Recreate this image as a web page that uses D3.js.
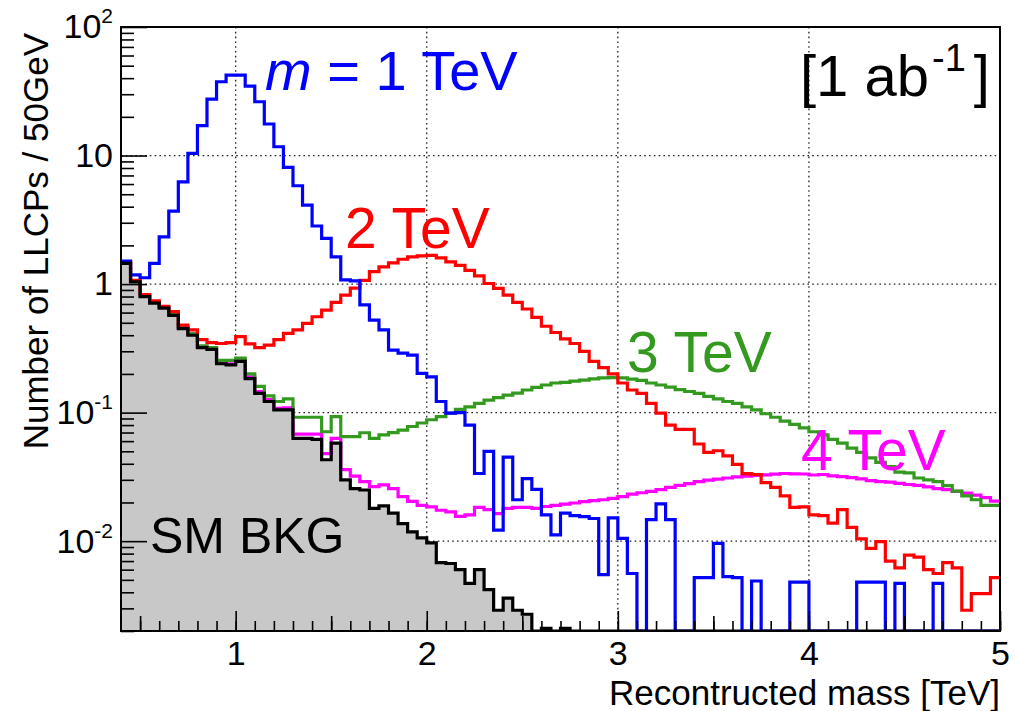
<!DOCTYPE html>
<html>
<head>
<meta charset="utf-8">
<script src="https://cdn.jsdelivr.net/npm/d3@7"></script>
<style>
  body { margin: 0; background: #fff; }
  text { font-family: "Liberation Sans", Arial, Helvetica, sans-serif; }
</style>
</head>
<body>
<svg id="chart" width="1015" height="711"></svg>
<script>
// Histogram binning: 50 GeV bins starting at 0.4 TeV
const binLow = 0.4;
const binWidth = 0.05;

// SM background (filled grey)
const smBkg = [
  1.45, 1.04, 0.80, 0.71, 0.65, 0.57, 0.45, 0.40, 0.32, 0.31,
  0.24, 0.235, 0.25, 0.184, 0.141, 0.122, 0.105, 0.105, 0.063, 0.063,
  0.062, 0.043, 0.058, 0.030, 0.0256, 0.025, 0.018, 0.0188, 0.0165, 0.0137,
  0.0118, 0.0106, 0.0097, 0.0068, 0.0067, 0.0060, 0.0047, 0.0060, 0.0042, 0.0029,
  0.0036, 0.0029, 0.0027, 0.0015, 0.0021, 0.0015, 0.0021, 0, 0, 0,
  0, 0, 0, 0, 0, 0, 0, 0, 0, 0,
  0, 0, 0, 0, 0, 0, 0, 0, 0, 0,
  0, 0, 0, 0, 0, 0, 0, 0, 0, 0,
  0, 0, 0, 0, 0, 0, 0, 0, 0, 0,
  0, 0
];

// Signal + background, m = 1 TeV
const sig1TeV = [
  1.51, 1.18, 1.12, 1.45, 2.33, 3.70, 6.25, 10.4, 17.1, 27.5,
  37.5, 42.3, 42.3, 34.7, 26.2, 17.6, 11.7, 8.1, 5.82, 4.12,
  2.83, 2.27, 1.63, 1.08, 1.06, 0.69, 0.525, 0.44, 0.306, 0.29,
  0.28, 0.202, 0.19, 0.122, 0.099, 0.10, 0.080, 0.0336, 0.050, 0.0122,
  0.045, 0.021, 0.0307, 0.0253, 0.016, 0.0112, 0.0165, 0.0158, 0.0155, 0.015,
  0.0055, 0.0152, 0.0105, 0.0056, 0, 0.0147, 0.0195, 0.0147, 0, 0,
  0.0052, 0.0052, 0.0096, 0.0053, 0.0052, 0, 0.0049, 0, 0, 0,
  0.0048, 0.0048, 0, 0, 0, 0, 0, 0.0048, 0.0048, 0.0048,
  0, 0.0047, 0, 0, 0, 0.0047, 0, 0, 0, 0,
  0, 0
];

// Signal + background, m = 2 TeV
const sig2TeV = [
  1.49, 1.07, 0.83, 0.74, 0.67, 0.61, 0.48, 0.44, 0.37, 0.35,
  0.345, 0.35, 0.39, 0.343, 0.32, 0.335, 0.37, 0.413, 0.44, 0.494,
  0.557, 0.628, 0.72, 0.82, 0.93, 1.07, 1.25, 1.36, 1.46, 1.56,
  1.63, 1.66, 1.67, 1.60, 1.49, 1.40, 1.28, 1.16, 1.01, 0.926,
  0.82, 0.72, 0.64, 0.55, 0.47, 0.42, 0.375, 0.345, 0.30, 0.25,
  0.224, 0.20, 0.17, 0.15, 0.141, 0.118, 0.099, 0.080, 0.074, 0.074,
  0.057, 0.049, 0.0505, 0.046, 0.0395, 0.0335, 0.033, 0.0285, 0.0262, 0.0225,
  0.0183, 0.0185, 0.016, 0.0158, 0.0138, 0.0176, 0.0128, 0.0104, 0.0088, 0.0099,
  0.0070, 0.0062, 0.0078, 0.0075, 0.0060, 0.0056, 0.0068, 0.0062, 0.0029, 0.0039,
  0.0039, 0.0052
];

// Signal + background, m = 3 TeV
const sig3TeV = [
  1.47, 1.06, 0.82, 0.73, 0.66, 0.585, 0.465, 0.41, 0.33, 0.32,
  0.255, 0.255, 0.265, 0.20, 0.16, 0.135, 0.122, 0.128, 0.092, 0.092,
  0.092, 0.071, 0.093, 0.065, 0.065, 0.0697, 0.063, 0.067, 0.070, 0.073,
  0.078, 0.083, 0.088, 0.093, 0.099, 0.106, 0.111, 0.118, 0.125, 0.131,
  0.137, 0.142, 0.150, 0.157, 0.164, 0.170, 0.172, 0.176, 0.179, 0.183,
  0.186, 0.187, 0.186, 0.182, 0.178, 0.170, 0.164, 0.158, 0.151, 0.146,
  0.141, 0.134, 0.128, 0.122, 0.118, 0.111, 0.105, 0.098, 0.092, 0.086,
  0.081, 0.076, 0.071, 0.067, 0.062, 0.058, 0.053, 0.049, 0.0445, 0.041,
  0.038, 0.0345, 0.034, 0.031, 0.030, 0.029, 0.027, 0.0245, 0.0225, 0.021,
  0.019, 0.019
];

// Signal + background, m = 4 TeV
const sig4TeV = [
  1.46, 1.05, 0.81, 0.72, 0.66, 0.58, 0.46, 0.41, 0.325, 0.315,
  0.245, 0.24, 0.255, 0.19, 0.146, 0.126, 0.108, 0.109, 0.068, 0.068,
  0.068, 0.048, 0.063, 0.036, 0.032, 0.029, 0.0266, 0.0274, 0.0256, 0.0222,
  0.0204, 0.019, 0.0185, 0.0174, 0.0169, 0.0156, 0.016, 0.0183, 0.0176, 0.0164,
  0.018, 0.0183, 0.0183, 0.018, 0.0186, 0.019, 0.0194, 0.0198, 0.0203, 0.0207,
  0.021, 0.0215, 0.0222, 0.0232, 0.0238, 0.0244, 0.0252, 0.0262, 0.0272, 0.028,
  0.029, 0.0298, 0.0304, 0.031, 0.0316, 0.032, 0.0325, 0.0328, 0.0332, 0.0336,
  0.0334, 0.0333, 0.0327, 0.033, 0.0322, 0.0318, 0.0312, 0.0305, 0.0296, 0.029,
  0.0288, 0.0282, 0.0276, 0.0272, 0.0264, 0.0256, 0.0252, 0.0244, 0.0236, 0.0228,
  0.0218, 0.0205
];

// Axis ticks and labels
const xMajorTicks = [1, 2, 3, 4, 5];
const xHalfTicks = [0.5, 1.5, 2.5, 3.5, 4.5];
const yMajorTicks = [0.01, 0.1, 1, 10, 100];
const yTickLabels = [
  { base: "10", exp: "-2" },
  { base: "10", exp: "-1" },
  { base: "1", exp: "" },
  { base: "10", exp: "" },
  { base: "10", exp: "2" }
];

const W = 1015, H = 711;
const frame = { left: 121, right: 1000, top: 27, bottom: 631 };

const x = d3.scaleLinear().domain([0.4, 5]).range([frame.left, frame.right]);
const y = d3.scaleLog().domain([0.002, 100]).range([frame.bottom, frame.top]).clamp(true);

const svg = d3.select("#chart");
svg.append("rect").attr("width", W).attr("height", H).attr("fill", "#fff");

svg.append("defs").append("clipPath").attr("id", "plotClip")
  .append("rect")
  .attr("x", frame.left).attr("y", frame.top)
  .attr("width", frame.right - frame.left)
  .attr("height", frame.bottom - frame.top);

// Dotted grid at the major ticks
const grid = svg.append("g").attr("stroke", "#222").attr("stroke-width", 1.3)
  .attr("stroke-dasharray", "1.6 3.2");
grid.selectAll("line.gx").data(xMajorTicks.filter(v => v < 5)).join("line")
  .attr("x1", d => x(d)).attr("x2", d => x(d))
  .attr("y1", frame.top).attr("y2", frame.bottom);
grid.selectAll("line.gy").data(yMajorTicks.filter(v => v < 100)).join("line")
  .attr("x1", frame.left).attr("x2", frame.right)
  .attr("y1", d => y(d)).attr("y2", d => y(d));

// Histogram helpers: one point per low edge, plus the final upper edge
function stepPoints(vals) {
  const pts = vals.map((v, i) => [binLow + i * binWidth, v]);
  pts.push([binLow + vals.length * binWidth, vals[vals.length - 1]]);
  return pts;
}
const stepLine = d3.line().x(d => x(d[0])).y(d => y(d[1])).curve(d3.curveStepAfter);
const stepArea = d3.area().x(d => x(d[0])).y0(frame.bottom).y1(d => y(d[1])).curve(d3.curveStepAfter);

const plot = svg.append("g").attr("clip-path", "url(#plotClip)");

plot.append("path").datum(stepPoints(smBkg))
  .attr("d", stepArea).attr("fill", "#c8c8c8").attr("stroke", "none");

const series = [
  { vals: sig4TeV, color: "#ff00ff" },
  { vals: sig3TeV, color: "#339a1f" },
  { vals: sig2TeV, color: "#ff0000" },
  { vals: sig1TeV, color: "#0000ff" },
  { vals: smBkg, color: "#000000" }
];
plot.selectAll("path.hist").data(series).join("path")
  .attr("class", "hist")
  .attr("d", d => stepLine(stepPoints(d.vals)))
  .attr("fill", "none")
  .attr("stroke", d => d.color)
  .attr("stroke-width", 3.2)
  .attr("stroke-linejoin", "miter");

// Axes
const fontSize = 34;
function styleAxis(g) {
  g.select(".domain").remove();
  g.selectAll(".tick line").attr("stroke", "#000").attr("stroke-width", 1.6);
}

// x axis: minor (0.1), half (0.5), major (1)
const xMinor = d3.range(5, 51).map(k => k / 10);
svg.append("g").attr("transform", `translate(0,${frame.bottom})`)
  .call(d3.axisBottom(x).tickValues(xMinor).tickSize(-10).tickFormat(""))
  .call(styleAxis);
svg.append("g").attr("transform", `translate(0,${frame.bottom})`)
  .call(d3.axisBottom(x).tickValues(xHalfTicks).tickSize(-15).tickFormat(""))
  .call(styleAxis);
svg.append("g").attr("transform", `translate(0,${frame.bottom})`)
  .call(d3.axisBottom(x).tickValues(xMajorTicks).tickSize(-20).tickPadding(10).tickFormat(d3.format("d")))
  .call(styleAxis)
  .call(g => g.selectAll("text").attr("font-size", fontSize).attr("fill", "#000")
    .attr("font-family", "Liberation Sans, Arial, sans-serif"));

// y axis: minor (2..9 per decade), major (decades)
const yMinor = [];
for (let e = -3; e <= 1; e++) {
  for (let k = 2; k <= 9; k++) {
    const v = k * Math.pow(10, e);
    if (v >= 0.002 && v <= 100) yMinor.push(v);
  }
}
svg.append("g").attr("transform", `translate(${frame.left},0)`)
  .call(d3.axisLeft(y).tickValues(yMinor).tickSize(-13).tickFormat(""))
  .call(styleAxis);
const yAxisG = svg.append("g").attr("transform", `translate(${frame.left},0)`)
  .call(d3.axisLeft(y).tickValues(yMajorTicks).tickSize(-26).tickPadding(8).tickFormat(""))
  .call(styleAxis);
yAxisG.selectAll(".tick text").each(function (d, i) {
  const t = d3.select(this)
    .attr("font-size", fontSize).attr("fill", "#000")
    .attr("font-family", "Liberation Sans, Arial, sans-serif");
  const lab = yTickLabels[i];
  t.text(lab.base);
  if (lab.exp) {
    t.append("tspan").attr("font-size", 21).attr("dy", -15).text(lab.exp);
  }
});

// Frame
svg.append("rect")
  .attr("x", frame.left).attr("y", frame.top)
  .attr("width", frame.right - frame.left).attr("height", frame.bottom - frame.top)
  .attr("fill", "none").attr("stroke", "#000").attr("stroke-width", 2);

// Axis titles
svg.append("text")
  .attr("x", frame.right).attr("y", 705)
  .attr("text-anchor", "end").attr("font-size", 35).attr("fill", "#000")
  .text("Recontructed mass [TeV]");
svg.append("text")
  .attr("transform", "translate(48,33) rotate(-90)")
  .attr("text-anchor", "end").attr("font-size", 35).attr("fill", "#000")
  .text("Number of LLCPs / 50GeV");

// Curve labels
const m1 = svg.append("text").attr("x", 265).attr("y", 90)
  .attr("font-size", 56).attr("fill", "#0000ff");
m1.append("tspan").attr("font-style", "italic").text("m");
m1.append("tspan").text(" = 1 TeV");

svg.append("text").attr("x", 345).attr("y", 248)
  .attr("font-size", 57).attr("fill", "#ff0000").text("2 TeV");
svg.append("text").attr("x", 627).attr("y", 372)
  .attr("font-size", 57).attr("fill", "#339a1f").text("3 TeV");
svg.append("text").attr("x", 801).attr("y", 470)
  .attr("font-size", 57).attr("fill", "#ff00ff").text("4 TeV");

const lumi = svg.append("text").attr("x", 800).attr("y", 96)
  .attr("font-size", 58).attr("fill", "#000");
lumi.append("tspan").text("[1 ab");
lumi.append("tspan").attr("font-size", 38).attr("dx", 3).attr("dy", -25).text("-1");
lumi.append("tspan").attr("dx", 8).attr("dy", 25).text("]");

svg.append("text").attr("x", 150).attr("y", 553)
  .attr("font-size", 50).attr("fill", "#000").text("SM BKG");
</script>
</body>
</html>
